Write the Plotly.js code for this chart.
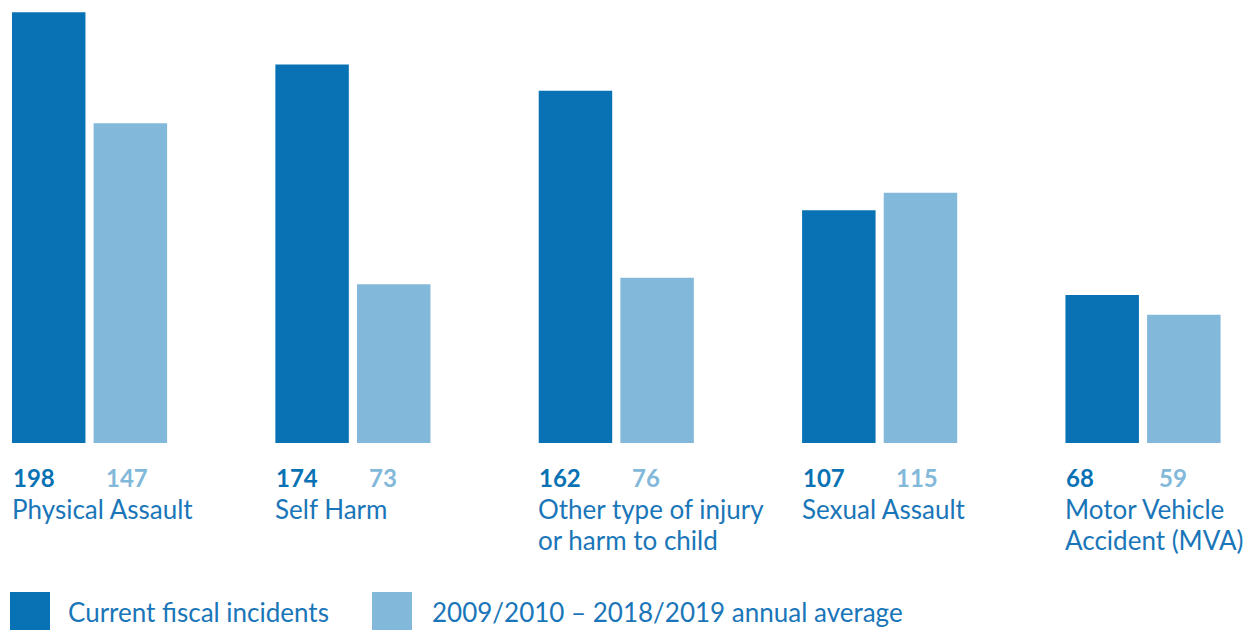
<!DOCTYPE html>
<html>
<head>
<meta charset="utf-8">
<script src="https://cdn.plot.ly/plotly-3.0.1.min.js"></script>
<style>html,body{margin:0;padding:0;background:#fff;}#chart{width:1251px;height:630px;}</style>
</head>
<body>
<div id="chart"></div>
<script>
const categories = ["Physical Assault", "Self Harm", "Other type of injury<br>or harm to child", "Sexual Assault", "Motor Vehicle<br>Accident (MVA)"];
const currentValues = [198, 174, 162, 107, 68];
const averageValues = [147, 73, 76, 115, 59];
const seriesNames = ["Current fiscal incidents", "2009/2010 \u2013 2018/2019 annual average"];

const darkBlue = "#0872b4";
const lightBlue = "#82b8da";
const textBlue = "#1a76b8";
const FONT = "Lato, 'Open Sans', sans-serif";

const traces = [
  {type: "bar", name: seriesNames[0], x: categories, y: currentValues, marker: {color: darkBlue}, showlegend: false, hoverinfo: "y"},
  {type: "bar", name: seriesNames[1], x: categories, y: averageValues, marker: {color: lightBlue}, showlegend: false, hoverinfo: "y"}
];

const annotations = [];
categories.forEach((c, i) => {
  annotations.push({xref: "x", yref: "y", x: c, y: 0, xanchor: "left", yanchor: "middle", xshift: -79, yshift: -34,
    text: "<b>" + currentValues[i] + "</b>", showarrow: false, font: {family: FONT, size: 24, color: darkBlue}});
  annotations.push({xref: "x", yref: "y", x: c, y: 0, xanchor: "left", yanchor: "middle", xshift: 14, yshift: -34,
    text: "<b>" + averageValues[i] + "</b>", showarrow: false, font: {family: FONT, size: 24, color: lightBlue}});
  c.split("<br>").forEach((line, j) => {
    annotations.push({xref: "x", yref: "y", x: c, y: 0, xanchor: "left", yanchor: "middle", xshift: -80, yshift: -66 - 31 * j,
      text: line, showarrow: false, font: {family: FONT, size: 26, color: textBlue}});
  });
});
annotations.push({xref: "paper", yref: "paper", x: 66/1251, y: (443-612)/435, xanchor: "left", yanchor: "middle",
  text: seriesNames[0], showarrow: false, font: {family: FONT, size: 26, color: textBlue}});
annotations.push({xref: "paper", yref: "paper", x: 430/1251, y: (443-612)/435, xanchor: "left", yanchor: "middle",
  text: seriesNames[1], showarrow: false, font: {family: FONT, size: 26, color: textBlue}});

const shapes = [
  {type: "rect", xref: "paper", yref: "paper", x0: 10/1251, x1: 50/1251, y0: (443-630)/435, y1: (443-592)/435, fillcolor: darkBlue, line: {width: 0}},
  {type: "rect", xref: "paper", yref: "paper", x0: 372/1251, x1: 412/1251, y0: (443-630)/435, y1: (443-592)/435, fillcolor: lightBlue, line: {width: 0}}
];

const layout = {
  width: 1251, height: 630,
  margin: {l: 0, r: 0, t: 8, b: 187, pad: 0},
  paper_bgcolor: "#ffffff", plot_bgcolor: "#ffffff",
  barmode: "group", bargap: 0.38, bargroupgap: 0.1,
  xaxis: {type: "category", range: [-0.34, 4.41], visible: false, fixedrange: true},
  yaxis: {range: [0, 200], visible: false, fixedrange: true},
  annotations: annotations,
  shapes: shapes,
  font: {family: FONT}
};

Plotly.newPlot("chart", traces, layout, {staticPlot: true, displayModeBar: false});
</script>
</body>
</html>
